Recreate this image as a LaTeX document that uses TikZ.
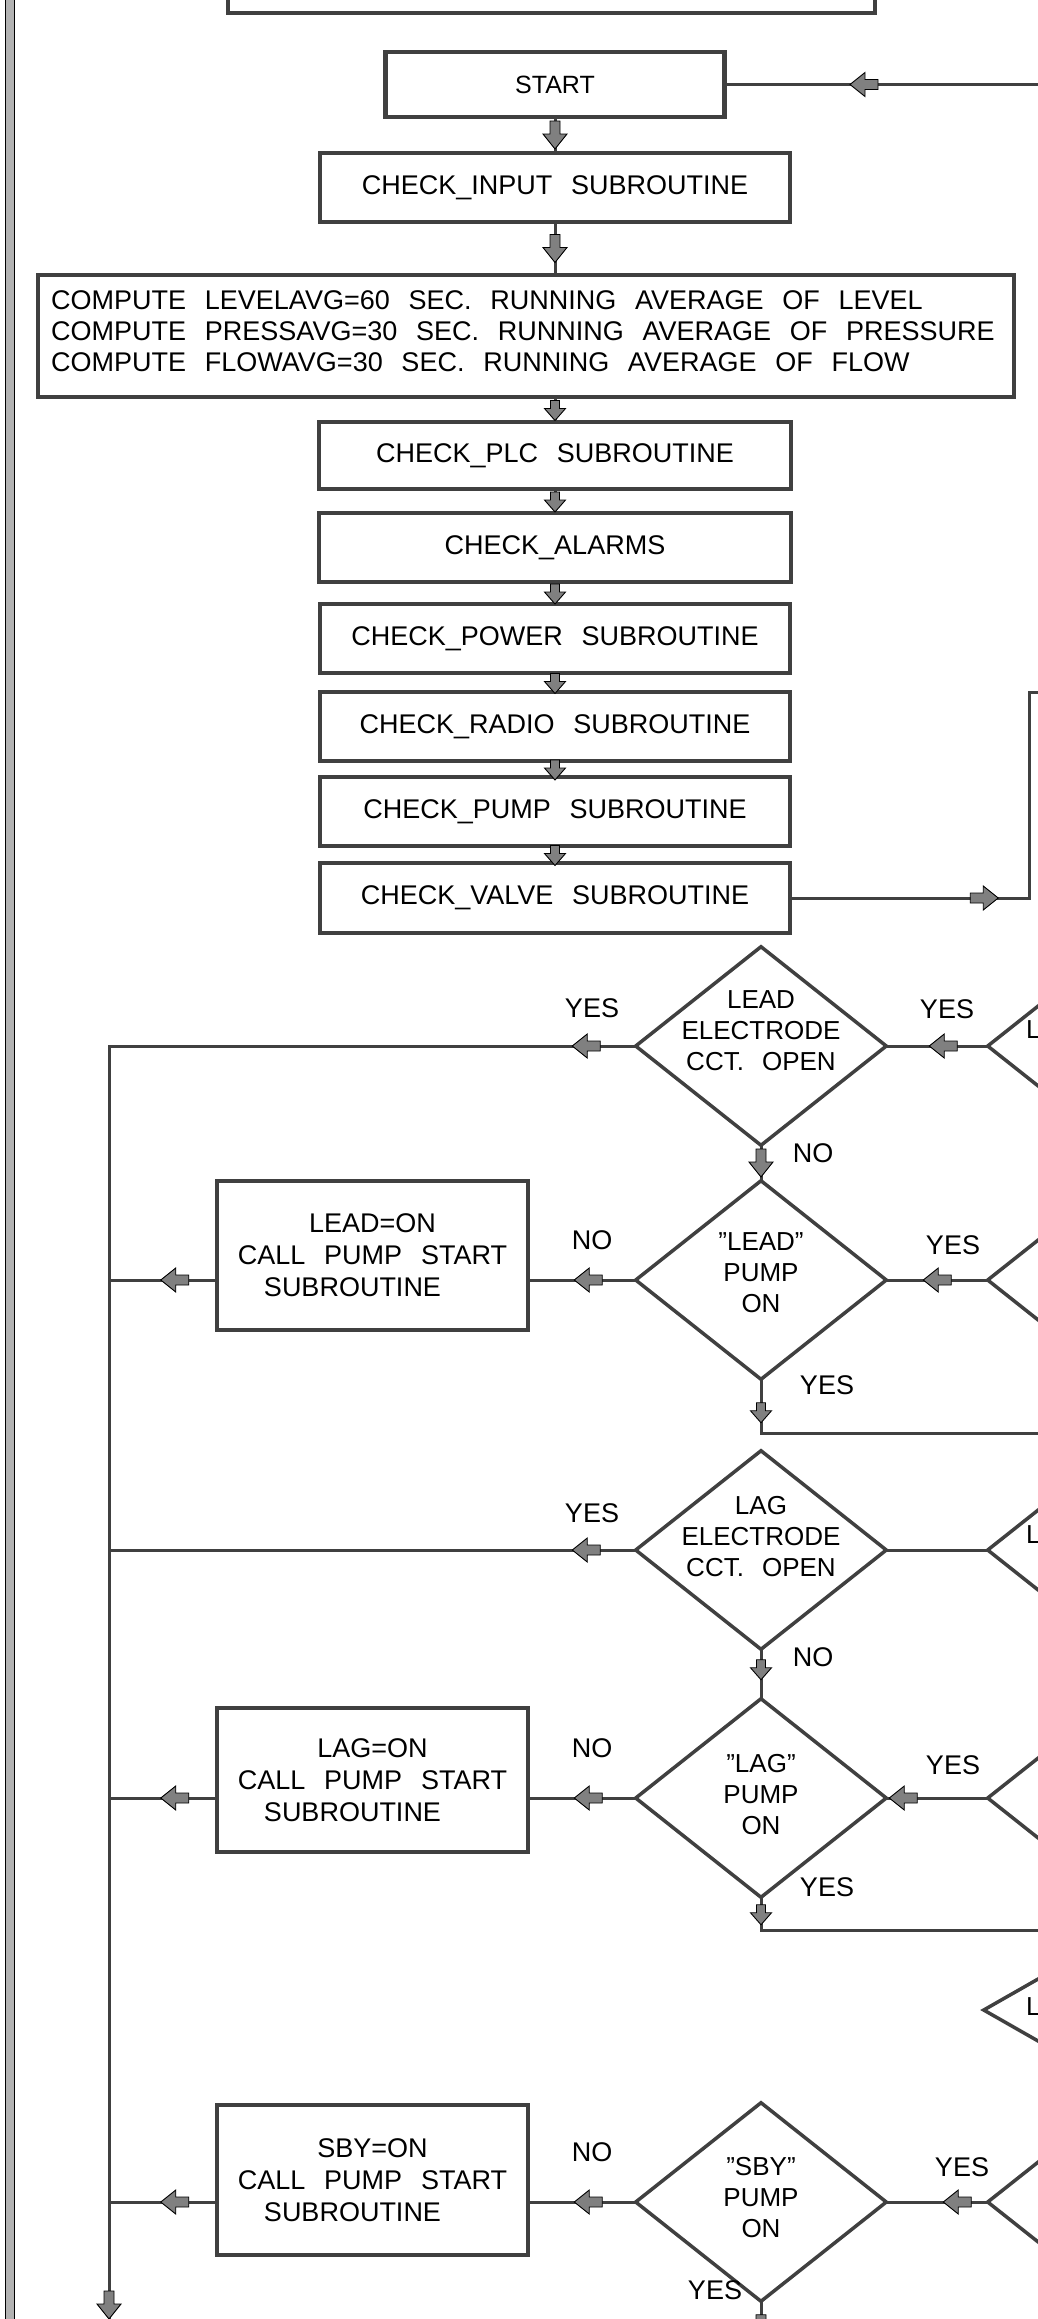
\documentclass[tikz,border=0pt]{standalone}
\usepackage{fontspec}
\setmainfont{Liberation Sans}[WordSpace=2.5]
\usetikzlibrary{shapes.geometric,decorations.markings}
\tikzset{
  ln/.style={draw=black!75, line width=3pt, line cap=rect},
  bx/.style={rectangle, draw=black!75, line width=4.5pt, inner sep=0pt, align=center, font=\fontsize{27}{32}\selectfont},
  dia/.style={diamond, draw=black!75, line width=3.5pt, inner sep=0pt, minimum width=252pt, minimum height=200pt},
  dtx/.style={inner sep=0pt, align=center, font=\fontsize{26}{31}\selectfont},
  lab/.style={inner sep=0pt, font=\fontsize{27}{32}\selectfont},
  ahd/.style={postaction={decorate}, decoration={markings, mark=at position #1 with {\draw[black, line width=0.9pt, fill=black!50, line cap=butt, line join=miter] (-14,-5) -- (-1,-5) -- (-1,-12) -- (14,0) -- (-1,12) -- (-1,5) -- (-14,5) -- cycle;}}},
  ahs/.style={postaction={decorate}, decoration={markings, mark=at position #1 with {\draw[black, line width=0.9pt, fill=black!50, line cap=butt, line join=miter] (-9,-4.5) -- (-1,-4.5) -- (-1,-10.5) -- (11,0) -- (-1,10.5) -- (-1,4.5) -- (-9,4.5) -- cycle;}}},
}
\begin{document}
\begin{tikzpicture}[x=1pt,y=-1pt]
\useasboundingbox (0,0) rectangle (1038,2319);
\fill[white] (0,0) rectangle (1038,2319);
\clip (0,0) rectangle (1038,2319);
% left bar
\draw[black, line width=0.8pt, fill=gray!60] (5,-10) rectangle (14,2330);
% top chain
\node[bx, minimum width=647pt, minimum height=120pt] (top) at (551.5,-47) {};
\node[bx, minimum width=339pt, minimum height=65pt, font=\fontsize{25}{30}\selectfont] (start) at (555,84.5) {START};
\node[bx, minimum width=470pt, minimum height=69pt] (input) at (555,187.5) {CHECK\_INPUT SUBROUTINE};
\node[bx, minimum width=976pt, minimum height=122pt] (comp) at (526,336) {};
\node[lab, align=left, anchor=west, font=\fontsize{27}{31}\selectfont] (compt) at (51,331) {COMPUTE LEVELAVG=60 SEC. RUNNING AVERAGE OF LEVEL\\COMPUTE PRESSAVG=30 SEC. RUNNING AVERAGE OF PRESSURE\\COMPUTE FLOWAVG=30 SEC. RUNNING AVERAGE OF FLOW};
\node[bx, minimum width=472pt, minimum height=67pt] (plc) at (555,455.5) {CHECK\_PLC SUBROUTINE};
\node[bx, minimum width=472pt, minimum height=69pt] (alarms) at (555,547.5) {CHECK\_ALARMS};
\node[bx, minimum width=470pt, minimum height=69pt] (power) at (555,638.5) {CHECK\_POWER SUBROUTINE};
\node[bx, minimum width=470pt, minimum height=69pt] (radio) at (555,726.5) {CHECK\_RADIO SUBROUTINE};
\node[bx, minimum width=470pt, minimum height=69pt] (pump) at (555,811.5) {CHECK\_PUMP SUBROUTINE};
\node[bx, minimum width=470pt, minimum height=70pt] (valve) at (555,898) {CHECK\_VALVE SUBROUTINE};
% coordinates
\coordinate (rS) at (1045,84.5);
\coordinate (rV) at (1029,692);
\coordinate (rV2) at (1045,692);
\coordinate (lj1) at (109,1046);
\coordinate (lbot) at (109,2319);
\coordinate (yj1) at (1045,1433);
\coordinate (yj2) at (1045,1930);
\coordinate (bot5) at (761,2345);
% chain connectors
\draw[ln, ahd=181pt] (start.east -| rS) -- (start.east);
\draw[ln, ahd=0.5] (start.south) -- (input.north);
\draw[ln, ahd=0.5] (input.south) -- (input.south |- comp.north);
\draw[ln, ahs=0.5] (comp.south -| plc.north) -- (plc.north);
\draw[ln, ahs=0.5] (plc.south) -- (alarms.north);
\draw[ln, ahs=0.5] (alarms.south) -- (power.north);
\draw[ln, ahs=0.5] (power.south) -- (radio.north);
\draw[ln, ahs=0.5] (radio.south) -- (pump.north);
\draw[ln, ahs=0.5] (pump.south) -- (valve.north);
\draw[ln, ahd=192pt] (valve.east) -- (valve.east -| rV) -- (rV) -- (rV2);
% diamonds
\node[dia] (d1) at (761,1046) {};
\node[dia] (d2) at (761,1280) {};
\node[dia] (d3) at (761,1550) {};
\node[dia] (d4) at (761,1798) {};
\node[dia] (d5) at (761,2202) {};
\node[dtx] (d1t) at (761,1031) {LEAD\\ELECTRODE\\CCT. OPEN};
\node[dtx] (d2t) at (761,1273) {"LEAD"\\PUMP\\ON};
\node[dtx] (d3t) at (761,1537) {LAG\\ELECTRODE\\CCT. OPEN};
\node[dtx] (d4t) at (761,1795) {"LAG"\\PUMP\\ON};
\node[dtx] (d5t) at (761,2198) {"SBY"\\PUMP\\ON};
% right partial diamonds
\node[dia] (d1r) at (1113,1046) {};
\node[dia] (d2r) at (1113,1280) {};
\node[dia] (d3r) at (1113,1550) {};
\node[dia] (d4r) at (1113,1798) {};
\node[dia] (d5r) at (1113,2202) {};
\node[dia, minimum width=262pt, minimum height=150pt] (d6r) at (1114,2010) {};
\node[dtx, anchor=west] (d1rt) at (1026,1030) {L};
\node[dtx, anchor=west] (d3rt) at (1026,1535) {L};
\node[dtx, anchor=west] (d6rt) at (1026,2007) {L};
% action boxes
\node[bx, minimum width=311pt, minimum height=149pt] (leadon) at (372.5,1255.5) {LEAD=ON\\CALL PUMP START\\SUBROUTINE\hspace*{40pt}};
\node[bx, minimum width=311pt, minimum height=144pt] (lagon) at (372.5,1780) {LAG=ON\\CALL PUMP START\\SUBROUTINE\hspace*{40pt}};
\node[bx, minimum width=311pt, minimum height=150pt] (sbyon) at (372.5,2180) {SBY=ON\\CALL PUMP START\\SUBROUTINE\hspace*{40pt}};
% diamond connectors
\draw[ln, ahd=47pt] (d1.west) -- (lj1);
\draw[ln, ahd=1259pt] (lj1) -- (lbot);
\draw[ln, ahd=42pt] (d1r.west) -- (d1.east);
\draw[ln, ahd=0.5] (d1.south) -- (d2.north);
\draw[ln, ahd=45pt] (d2.west) -- (d2.west -| leadon.east);
\draw[ln, ahd=40pt] (d2.west -| leadon.west) -- (d2.west -| lj1);
\draw[ln, ahd=48pt] (d2r.west) -- (d2.east);
\draw[ln, ahs=30pt] (d2.south) -- (d2.south |- yj1) -- (yj1);
\draw[ln, ahd=47pt] (d3.west) -- (d3.west -| lj1);
\draw[ln] (d3r.west) -- (d3.east);
\draw[ln, ahs=17pt] (d3.south) -- (d4.north);
\draw[ln, ahd=45pt] (d4.west) -- (d4.west -| lagon.east);
\draw[ln, ahd=40pt] (d4.west -| lagon.west) -- (d4.west -| lj1);
\draw[ln, ahd=82pt] (d4r.west) -- (d4.east);
\draw[ln, ahs=14pt] (d4.south) -- (d4.south |- yj2) -- (yj2);
\draw[ln, ahd=45pt] (d5.west) -- (d5.west -| sbyon.east);
\draw[ln, ahd=40pt] (d5.west -| sbyon.west) -- (d5.west -| lj1);
\draw[ln, ahd=28pt] (d5r.west) -- (d5.east);
\draw[ln, ahd=25pt] (d5.south) -- (bot5);
% labels
\node[lab] (y1l) at (592,1008) {YES};
\node[lab] (y1r) at (947,1009) {YES};
\node[lab] (n1b) at (813,1153) {NO};
\node[lab] (n2l) at (592,1240) {NO};
\node[lab] (y2r) at (953,1245) {YES};
\node[lab] (y2b) at (827,1385) {YES};
\node[lab] (y3l) at (592,1513) {YES};
\node[lab] (n3b) at (813,1657) {NO};
\node[lab] (n4l) at (592,1748) {NO};
\node[lab] (y4r) at (953,1765) {YES};
\node[lab] (y4b) at (827,1887) {YES};
\node[lab] (n5l) at (592,2152) {NO};
\node[lab] (y5r) at (962,2167) {YES};
\node[lab] (y5b) at (715,2290) {YES};
\end{tikzpicture}
\end{document}
